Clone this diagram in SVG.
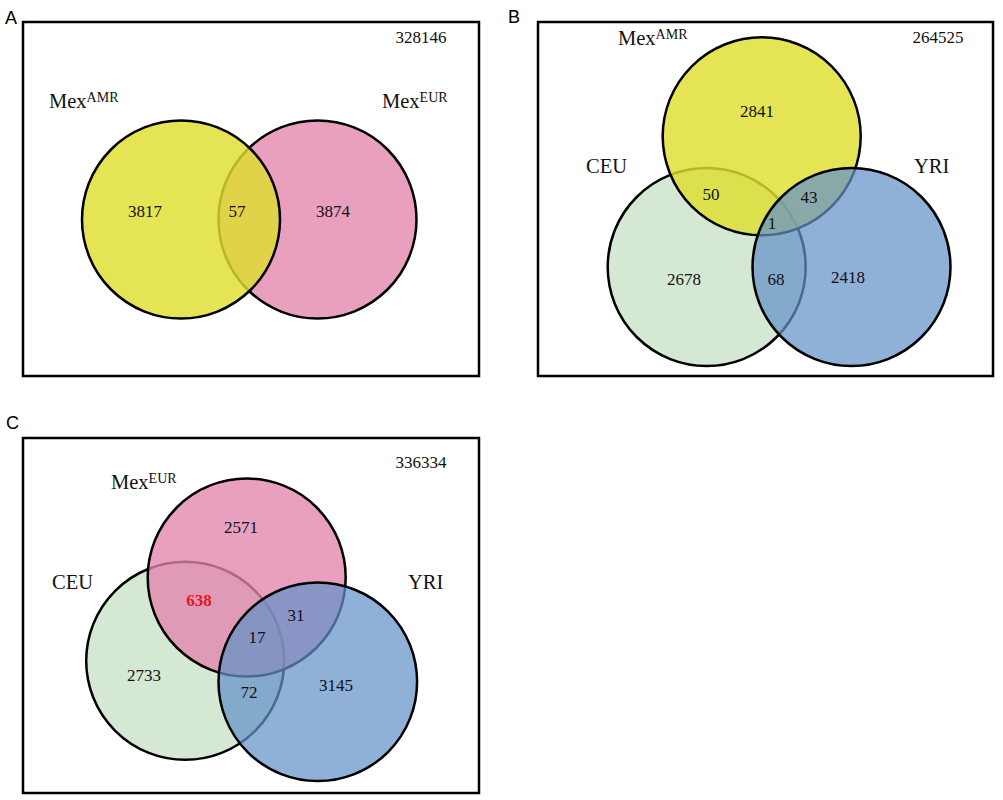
<svg xmlns="http://www.w3.org/2000/svg" width="1003" height="800" viewBox="0 0 1003 800">
<style>
.box{fill:#fff;stroke:#000;stroke-width:2.5}
.c{stroke:#000;stroke-width:2.5}
.yel{fill:#dede30;fill-opacity:0.82}
.pink{fill:#e185ac;fill-opacity:0.78}
.grn{fill:#cfe6cf;fill-opacity:0.9}
.blu{fill:#6491c8;fill-opacity:0.72}
.n{font-family:"Liberation Serif","DejaVu Serif",serif;font-size:17px;fill:#111;text-anchor:middle}
.lab{font-family:"Liberation Serif","DejaVu Serif",serif;font-size:20.5px;fill:#111}
.sup{font-size:14px}
.pl{font-family:"Liberation Sans","Open Sans",sans-serif;font-size:18px;fill:#000}
.red{fill:#e8141e;font-weight:bold}
</style>
<rect width="1003" height="800" fill="#fff"/>

<g id="panelA">
<text class="pl" x="5" y="24">A</text>
<rect class="box" x="23" y="22" width="456" height="354"/>
<text class="n" x="421" y="43">328146</text>
<g id="A-mexEUR"><circle class="c pink" cx="317.5" cy="219.5" r="99"/></g>
<g id="A-mexAMR"><circle class="c yel" cx="181" cy="219.5" r="99"/></g>
<text class="lab" x="49" y="108">Mex<tspan class="sup" dy="-6">AMR</tspan></text>
<text class="lab" x="382" y="108">Mex<tspan class="sup" dy="-6">EUR</tspan></text>
<text class="n" x="145" y="217">3817</text>
<text class="n" x="237" y="217">57</text>
<text class="n" x="333" y="217">3874</text>
</g>

<g id="panelB">
<text class="pl" x="508" y="23">B</text>
<rect class="box" x="538" y="22" width="455" height="354"/>
<text class="n" x="938" y="43">264525</text>
<g id="B-CEU"><circle class="c grn" cx="706.7" cy="267" r="99"/></g>
<g id="B-mexAMR"><circle class="c yel" cx="761.7" cy="136.3" r="99"/></g>
<g id="B-YRI"><circle class="c blu" cx="851.5" cy="267" r="99"/></g>
<text class="lab" x="618" y="45">Mex<tspan class="sup" dy="-6">AMR</tspan></text>
<text class="lab" x="586" y="173">CEU</text>
<text class="lab" x="914" y="173">YRI</text>
<text class="n" x="757" y="117">2841</text>
<text class="n" x="711" y="200">50</text>
<text class="n" x="809" y="203">43</text>
<text class="n" x="772" y="229">1</text>
<text class="n" x="684" y="285">2678</text>
<text class="n" x="776" y="285">68</text>
<text class="n" x="848" y="283">2418</text>
</g>

<g id="panelC">
<text class="pl" x="6" y="429">C</text>
<rect class="box" x="23" y="438" width="456" height="355"/>
<text class="n" x="421" y="468">336334</text>
<g id="C-CEU"><circle class="c grn" cx="185.2" cy="660.8" r="99"/></g>
<g id="C-mexEUR"><circle class="c pink" cx="246.7" cy="577.5" r="99"/></g>
<g id="C-YRI"><circle class="c blu" cx="317.8" cy="681.8" r="99.3"/></g>
<text class="lab" x="111" y="489">Mex<tspan class="sup" dy="-6">EUR</tspan></text>
<text class="lab" x="52" y="589">CEU</text>
<text class="lab" x="408" y="589">YRI</text>
<text class="n" x="241" y="533">2571</text>
<text class="n red" x="199" y="606">638</text>
<text class="n" x="296" y="621">31</text>
<text class="n" x="257" y="643">17</text>
<text class="n" x="144" y="681">2733</text>
<text class="n" x="249" y="698">72</text>
<text class="n" x="336" y="691">3145</text>
</g>
</svg>
